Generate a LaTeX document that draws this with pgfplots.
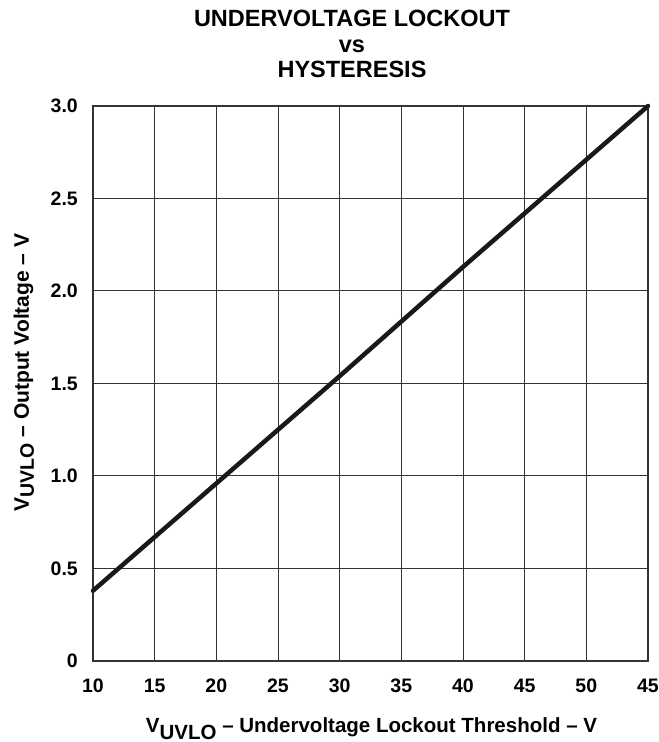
\documentclass[border=0pt]{standalone}
\usepackage{fontspec}
\setmainfont{Liberation Sans}
\usepackage{pgfplots}
\pgfplotsset{compat=1.18}
\usetikzlibrary{calc}
\begin{document}
\begin{tikzpicture}[x=1bp,y=1bp]
\begin{axis}[
  at={(93bp,81bp)}, anchor=south west,
  scale only axis, width=555bp, height=555bp,
  xmin=10, xmax=55, ymin=0, ymax=3,
  xtick={10,15,...,55},
  xticklabels={10,15,20,25,30,35,40,45,50,45},
  ytick={0,0.5,1,1.5,2,2.5,3},
  yticklabels={0,0.5,1.0,1.5,2.0,2.5,3.0},
  /pgf/number format/assume math mode=true,
  major tick length=0pt,
  grid=major,
  grid style={line width=1bp, color=black!80},
  axis line style={line width=1.2bp, color=black!80},
  tick label style={font=\fontsize{19.5bp}{20bp}\selectfont\bfseries, inner sep=0pt},
  xticklabel style={anchor=north, yshift=-18bp},
  yticklabel style={anchor=east, xshift=-15bp},
  xlabel={V\raisebox{-7bp}{UVLO} -- Undervoltage Lockout Threshold -- V},
  xlabel style={font=\fontsize{20.5bp}{21bp}\selectfont\bfseries, inner sep=0pt,
    at={($(axis description cs:0.5,0)+(1bp,-71bp)$)}, anchor=base},
  ylabel={V{\fontsize{19.5bp}{20bp}\selectfont\raisebox{-5bp}{UVLO}} -- Output Voltage -- V},
  ylabel style={font=\fontsize{21bp}{21bp}\selectfont\bfseries, inner sep=0pt,
    at={($(axis description cs:0,0.5)+(-64bp,11bp)$)}, anchor=base, rotate=0},
  title={UNDERVOLTAGE LOCKOUT\\vs\\HYSTERESIS},
  title style={font=\fontsize{23.5bp}{25.5bp}\selectfont\bfseries, inner sep=0pt, align=center,
    at={($(axis description cs:0.5,1)+(-18.5bp,90bp)$)}, anchor=north},
  clip=false,
]
\addplot[black!90, line width=4.5bp, line cap=round] coordinates {
  (10,0.38) (20,0.96) (30,1.54) (40,2.13) (55,3.0)
};
\end{axis}
\pgfresetboundingbox
\path[use as bounding box] (0,0) rectangle (659bp,742bp);
\end{tikzpicture}
\end{document}
